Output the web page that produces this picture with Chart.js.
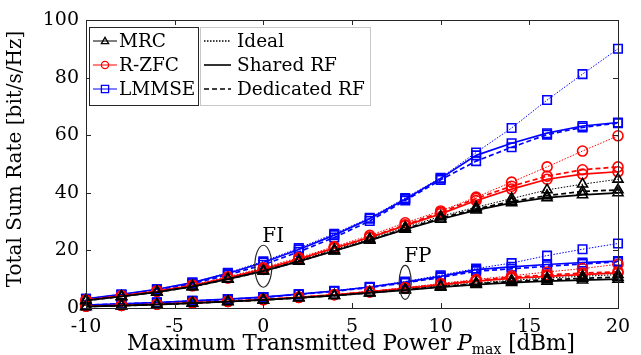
<!DOCTYPE html>
<html>
<head>
<meta charset="utf-8">
<script src="https://cdn.jsdelivr.net/npm/chart.js@4.4.1/dist/chart.umd.min.js"></script>
<style>
html, body { margin: 0; padding: 0; background: #fff; }
#wrap { width: 641px; height: 355px; }
</style>
</head>
<body>
<div id="wrap"><canvas id="rateChart" width="641" height="355"></canvas></div>
<script>
// x axis: maximum transmitted power [dBm]
const powerDbm = [-10, -8, -6, -4, -2, 0, 2, 4, 6, 8, 10, 12, 14, 16, 18, 20];

// FI group (upper curves)
const mrcFiIdeal      = [2.6, 4.0, 5.6, 7.5, 10.2, 13.0, 16.5, 20.2, 24.0, 28.0, 31.8, 35.0, 38.0, 41.0, 43.0, 44.7];
const mrcFiShared     = [2.6, 4.0, 5.5, 7.4, 10.0, 12.8, 16.2, 19.8, 23.5, 27.3, 30.8, 34.0, 36.5, 38.3, 39.3, 40.0];
const mrcFiDedicated  = [2.6, 4.0, 5.5, 7.4, 10.0, 12.8, 16.2, 19.9, 23.6, 27.5, 31.2, 34.4, 37.0, 39.0, 40.5, 41.0];
const zfcFiIdeal      = [2.8, 4.3, 6.0, 8.0, 10.8, 14.0, 17.5, 21.3, 25.2, 29.6, 33.7, 38.5, 43.7, 49.0, 54.5, 59.8];
const zfcFiShared     = [2.7, 4.2, 5.8, 7.8, 10.5, 13.5, 17.0, 20.8, 24.5, 28.6, 32.7, 37.3, 41.3, 44.7, 46.5, 47.3];
const zfcFiDedicated  = [2.7, 4.2, 5.8, 7.7, 10.4, 13.4, 16.9, 20.8, 24.6, 28.9, 33.2, 38.0, 42.3, 45.8, 48.0, 49.0];
const lmmseFiIdeal    = [3.2, 4.7, 6.5, 8.8, 12.2, 16.2, 20.8, 25.8, 31.3, 38.2, 45.2, 54.0, 62.5, 72.2, 81.2, 90.0];
const lmmseFiShared   = [3.2, 4.7, 6.5, 8.8, 12.0, 15.8, 20.3, 25.3, 31.0, 37.8, 45.0, 53.0, 57.2, 60.7, 63.2, 64.4];
const lmmseFiDedicated= [3.1, 4.5, 6.3, 8.4, 11.5, 15.0, 19.5, 24.5, 30.2, 37.3, 44.5, 51.0, 55.8, 60.2, 62.7, 64.2];

// FP group (lower curves)
const mrcFpIdeal      = [0.5, 0.8, 1.2, 1.7, 2.2, 2.8, 3.6, 4.4, 5.4, 6.5, 7.6, 8.7, 9.6, 10.4, 11.0, 11.6];
const mrcFpShared     = [0.5, 0.8, 1.2, 1.7, 2.2, 2.8, 3.5, 4.3, 5.2, 6.2, 7.2, 8.1, 8.8, 9.3, 9.7, 10.0];
const mrcFpDedicated  = [0.5, 0.8, 1.2, 1.7, 2.2, 2.8, 3.5, 4.3, 5.3, 6.3, 7.4, 8.4, 9.2, 9.8, 10.3, 10.7];
const zfcFpIdeal      = [0.6, 0.9, 1.3, 1.8, 2.3, 3.0, 3.8, 4.7, 5.8, 7.1, 8.5, 9.9, 11.2, 12.5, 13.7, 15.2];
const zfcFpShared     = [0.6, 0.9, 1.3, 1.8, 2.3, 2.9, 3.7, 4.6, 5.6, 6.8, 8.0, 9.3, 10.3, 11.0, 11.6, 12.2];
const zfcFpDedicated  = [0.6, 0.9, 1.3, 1.8, 2.3, 2.9, 3.7, 4.6, 5.6, 6.9, 8.2, 9.6, 10.7, 11.5, 12.1, 12.6];
const lmmseFpIdeal    = [1.0, 1.4, 1.9, 2.5, 3.1, 3.8, 4.8, 6.0, 7.4, 9.2, 11.4, 13.7, 15.6, 18.2, 20.4, 22.4];
const lmmseFpShared   = [1.0, 1.4, 1.9, 2.5, 3.1, 3.8, 4.8, 5.9, 7.3, 9.0, 11.0, 13.3, 14.3, 15.1, 15.8, 16.3];
const lmmseFpDedicated= [1.0, 1.4, 1.9, 2.4, 3.0, 3.7, 4.7, 5.8, 7.1, 8.7, 10.6, 12.8, 13.6, 14.5, 15.3, 16.0];

// legend text
const detectorNames = ['MRC', 'R-ZFC', 'LMMSE'];
const rfNames = ['Ideal', 'Shared RF', 'Dedicated RF'];

// group annotations: label, x (dBm), y centre (bit/s/Hz)
const groupLabels = ['FI', 'FP'];
const groupPower  = [0, 8];
const groupRate   = [14.5, 8.9];

const serif = '"DejaVu Serif", "Liberation Serif", serif';
const detectorColors = ['#000000', '#ff0000', '#0000ff'];
const detectorMarkers = ['triangle', 'circle', 'rect'];
const markerRadius = [5.8, 5, 6];
const rfDash = [[1.5, 1.5], [], [5, 3]];
const rfWidth = [1, 1.7, 1.7];

const seriesTable = [
    [mrcFiIdeal, mrcFiShared, mrcFiDedicated, mrcFpIdeal, mrcFpShared, mrcFpDedicated],
    [zfcFiIdeal, zfcFiShared, zfcFiDedicated, zfcFpIdeal, zfcFpShared, zfcFpDedicated],
    [lmmseFiIdeal, lmmseFiShared, lmmseFiDedicated, lmmseFpIdeal, lmmseFpShared, lmmseFpDedicated]
];

function buildDataset(values, det, rf) {
    const color = detectorColors[det];
    return {
        label: detectorNames[det] + ' ' + rfNames[rf],
        data: powerDbm.map((p, i) => ({ x: p, y: values[i] })),
        borderColor: color,
        borderWidth: rfWidth[rf],
        borderDash: rfDash[rf],
        pointStyle: detectorMarkers[det],
        pointRadius: markerRadius[det],
        pointBorderWidth: 1.6,
        pointBorderColor: color,
        pointBackgroundColor: 'rgba(0,0,0,0)',
        fill: false,
        tension: 0,
        clip: false
    };
}

const datasets = [];
seriesTable.forEach((rows, det) => {
    rows.forEach((values, k) => {
        datasets.push(buildDataset(values, det, k % 3));
    });
});

function drawMarker(ctx, style, x, y, r, color) {
    ctx.save();
    ctx.strokeStyle = color;
    ctx.lineWidth = 1.3;
    ctx.setLineDash([]);
    ctx.beginPath();
    if (style === 'circle') {
        ctx.arc(x, y, r, 0, Math.PI * 2);
    } else if (style === 'rect') {
        ctx.rect(x - r, y - r, 2 * r, 2 * r);
    } else {
        ctx.moveTo(x, y - r);
        ctx.lineTo(x + r, y + r * 0.75);
        ctx.lineTo(x - r, y + r * 0.75);
        ctx.closePath();
    }
    ctx.stroke();
    ctx.restore();
}

// frame, inward ticks, titles, legend and FI/FP notes
const decorPlugin = {
    id: 'decor',
    afterDraw(chart) {
        const ctx = chart.ctx;
        const area = chart.chartArea;
        const xs = chart.scales.x;
        const ys = chart.scales.y;
        ctx.save();

        // box
        ctx.strokeStyle = '#262626';
        ctx.lineWidth = 1;
        ctx.strokeRect(area.left + 0.5, area.top + 0.5, area.right - area.left, area.bottom - area.top);

        // inward ticks
        ctx.beginPath();
        xs.ticks.forEach(t => {
            const px = Math.round(xs.getPixelForValue(t.value)) + 0.5;
            ctx.moveTo(px, area.bottom); ctx.lineTo(px, area.bottom - 5);
            ctx.moveTo(px, area.top); ctx.lineTo(px, area.top + 5);
        });
        ys.ticks.forEach(t => {
            const py = Math.round(ys.getPixelForValue(t.value)) + 0.5;
            ctx.moveTo(area.left, py); ctx.lineTo(area.left + 5, py);
            ctx.moveTo(area.right, py); ctx.lineTo(area.right - 5, py);
        });
        ctx.stroke();

        // FI / FP ellipses
        ctx.lineWidth = 1.2;
        ctx.fillStyle = '#000';
        ctx.font = '20px ' + serif;
        ctx.textAlign = 'left';
        ctx.textBaseline = 'alphabetic';
        const ry = [21, 17];
        const rx = [8.5, 6];
        groupLabels.forEach((lab, i) => {
            const cx = xs.getPixelForValue(groupPower[i]);
            const cy = ys.getPixelForValue(groupRate[i]);
            ctx.beginPath();
            ctx.ellipse(cx, cy, rx[i], ry[i], 0, 0, Math.PI * 2);
            ctx.stroke();
            ctx.fillText(lab, cx - 1, cy - ry[i] - 3);
        });

        // axis titles
        const parts = [
            { t: 'Maximum Transmitted Power ', f: '21.5px ' + serif, dy: 0 },
            { t: 'P', f: 'italic 21.5px ' + serif, dy: 0 },
            { t: 'max', f: '14px ' + serif, dy: 4 },
            { t: ' [dBm]', f: '21.5px ' + serif, dy: 0 }
        ];
        let total = 0;
        parts.forEach(p => { ctx.font = p.f; p.w = ctx.measureText(p.t).width; total += p.w; });
        let px = 351 - total / 2;
        parts.forEach(p => {
            ctx.font = p.f;
            ctx.fillText(p.t, px, 350 + p.dy);
            px += p.w;
        });

        ctx.save();
        ctx.translate(21, (area.top + area.bottom) / 2 - 5);
        ctx.rotate(-Math.PI / 2);
        ctx.textAlign = 'center';
        ctx.font = '20px ' + serif;
        ctx.fillText('Total Sum Rate [bit/s/Hz]', 0, 0);
        ctx.restore();

        // legend boxes
        const boxTop = 27, boxH = 78;
        ctx.fillStyle = '#fff';
        ctx.fillRect(89, boxTop, 109, boxH);
        ctx.fillRect(200, boxTop, 170, boxH);
        ctx.strokeStyle = '#262626';
        ctx.lineWidth = 1;
        ctx.strokeRect(89.5, boxTop + 0.5, 109, boxH);
        ctx.strokeStyle = '#c8c8c8';
        ctx.strokeRect(200.5, boxTop + 0.5, 170, boxH);

        ctx.font = '18.5px ' + serif;
        ctx.textBaseline = 'middle';
        const rowY = [41, 65, 89];
        detectorNames.forEach((name, i) => {
            ctx.strokeStyle = detectorColors[i];
            ctx.lineWidth = 1;
            ctx.setLineDash([]);
            ctx.beginPath();
            ctx.moveTo(93, rowY[i]); ctx.lineTo(117, rowY[i]);
            ctx.stroke();
            drawMarker(ctx, detectorMarkers[i], 105, rowY[i], 3.6, detectorColors[i]);
            ctx.fillStyle = '#000';
            ctx.fillText(name, 119, rowY[i] + 1);
        });
        rfNames.forEach((name, i) => {
            ctx.strokeStyle = '#000';
            ctx.lineWidth = rfWidth[i] === 1 ? 1.3 : 1.6;
            ctx.setLineDash(rfDash[i].length ? rfDash[i] : []);
            ctx.beginPath();
            ctx.moveTo(204, rowY[i]); ctx.lineTo(231, rowY[i]);
            ctx.stroke();
            ctx.setLineDash([]);
            ctx.fillStyle = '#000';
            ctx.fillText(name, 237, rowY[i] + 1);
        });

        ctx.restore();
    }
};

const ctx = document.getElementById('rateChart').getContext('2d');
const rateChart = new Chart(ctx, {
    type: 'line',
    data: { datasets: datasets },
    options: {
        responsive: false,
        animation: false,
        devicePixelRatio: 1,
        layout: { padding: { top: 20, right: 23, left: 0, bottom: 0 } },
        plugins: {
            legend: { display: false },
            tooltip: { enabled: false }
        },
        scales: {
            x: {
                type: 'linear',
                min: -10,
                max: 20,
                afterFit: s => { s.height = 47; },
                grid: { display: false, drawTicks: false },
                border: { display: false },
                ticks: { stepSize: 5, padding: 8, color: '#000', font: { family: serif, size: 19 } }
            },
            y: {
                min: 0,
                max: 100,
                afterFit: s => { s.width = 86; },
                grid: { display: false, drawTicks: false },
                border: { display: false },
                ticks: { stepSize: 20, padding: 7, color: '#000', font: { family: serif, size: 19 } }
            }
        }
    },
    plugins: [decorPlugin]
});
</script>
</body>
</html>
